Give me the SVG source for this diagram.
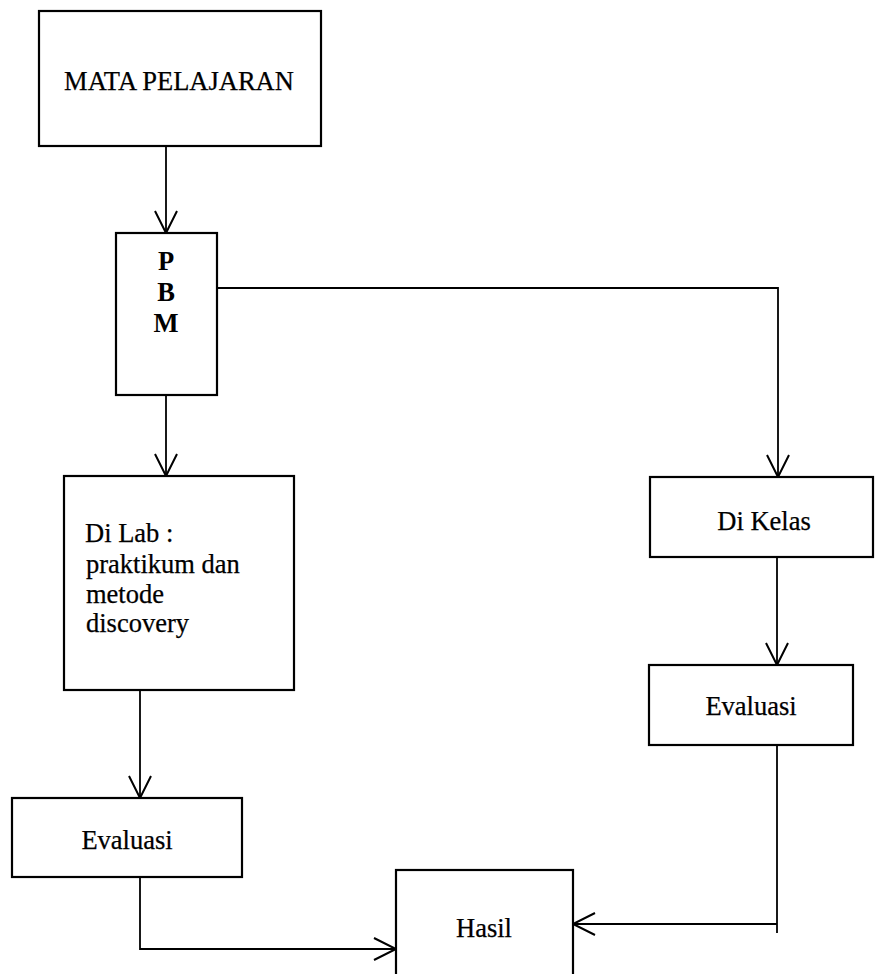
<svg xmlns="http://www.w3.org/2000/svg" width="875" height="974" viewBox="0 0 875 974">
<style>
.box{fill:#fff;stroke:#000;stroke-width:2.2}
.lbl{font-family:"Liberation Serif","Times New Roman",serif;font-size:26.5px;fill:#000;stroke:#000;stroke-width:0.25}
.c{text-anchor:middle}
.b{font-weight:bold;stroke-width:0}
.con{fill:none;stroke:#000;stroke-width:1.8}
</style>
<defs>
<marker id="arr" markerUnits="userSpaceOnUse" markerWidth="30" markerHeight="30" viewBox="-25 -15 30 30" refX="0" refY="0" orient="auto">
<path d="M-22,-11 L0,0 L-22,11" fill="none" stroke="#000" stroke-width="2"/>
</marker>
</defs>
<rect width="875" height="974" fill="#fff"/>
<g id="connectors">
<path class="con" d="M166,146 L166,233" marker-end="url(#arr)"/>
<path class="con" d="M166,395 L166,476" marker-end="url(#arr)"/>
<path class="con" d="M217,288 L778,288 L778,477" marker-end="url(#arr)"/>
<path class="con" d="M777,557 L777,665" marker-end="url(#arr)"/>
<path class="con" d="M140,690 L140,798" marker-end="url(#arr)"/>
<path class="con" d="M140,869 L140,949 L396,949" marker-end="url(#arr)"/>
<path class="con" d="M777,745 L777,933"/>
<path class="con" d="M777,924 L573,924" marker-end="url(#arr)"/>
</g>
<g id="mata-pelajaran">
<rect class="box" x="39" y="11" width="282" height="135"/>
<text class="lbl c" x="179" y="90">MATA PELAJARAN</text>
</g>
<g id="pbm">
<rect class="box" x="116" y="233" width="101" height="162"/>
<text class="lbl c b" x="166" y="270">P</text>
<text class="lbl c b" x="166" y="301">B</text>
<text class="lbl c b" x="166" y="332">M</text>
</g>
<g id="di-lab">
<rect class="box" x="64" y="476" width="230" height="214"/>
<text class="lbl" x="85" y="542">Di Lab :</text>
<text class="lbl" x="86" y="573">praktikum dan</text>
<text class="lbl" x="86" y="603">metode</text>
<text class="lbl" x="86" y="632">discovery</text>
</g>
<g id="di-kelas">
<rect class="box" x="650" y="477" width="223" height="80"/>
<text class="lbl c" x="764" y="530">Di Kelas</text>
</g>
<g id="evaluasi-kanan">
<rect class="box" x="649" y="665" width="204" height="80"/>
<text class="lbl c" x="751" y="715">Evaluasi</text>
</g>
<g id="evaluasi-kiri">
<rect class="box" x="12" y="798" width="230" height="79"/>
<text class="lbl c" x="127" y="849">Evaluasi</text>
</g>
<g id="hasil">
<rect class="box" x="396" y="870" width="177" height="120"/>
<text class="lbl c" x="484" y="937">Hasil</text>
</g>
</svg>
